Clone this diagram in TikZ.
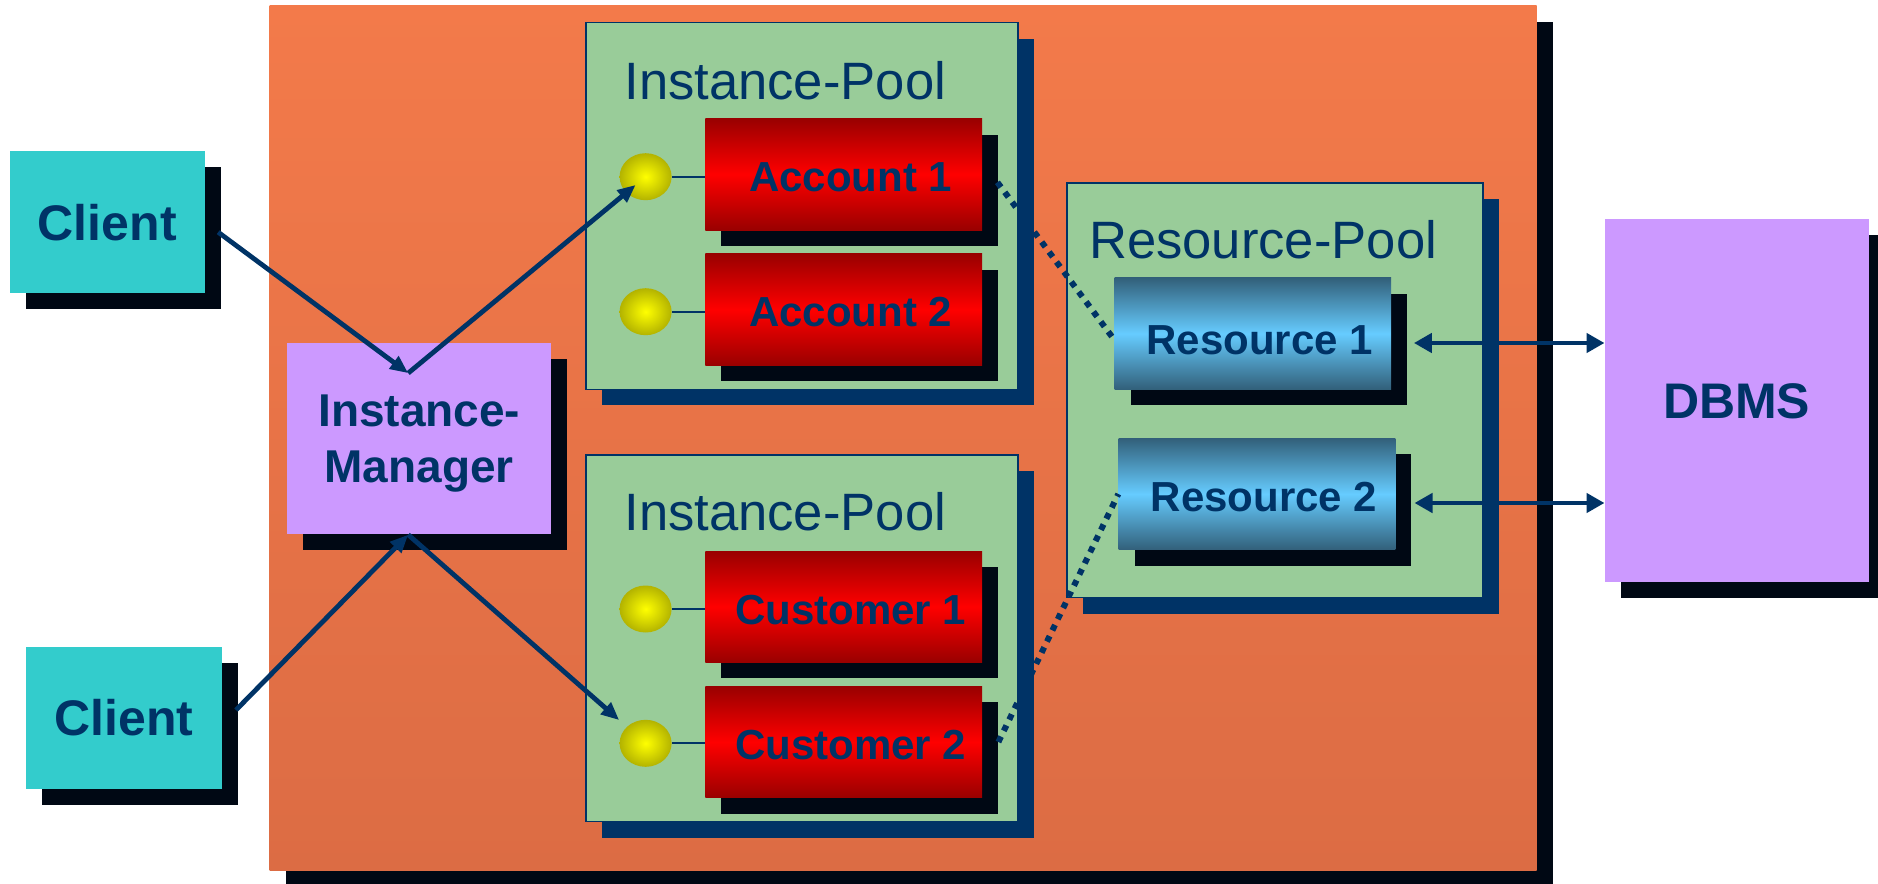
\documentclass[tikz,border=0pt]{standalone}
\usepackage{fontspec}
\setmainfont{Liberation Sans}
\usetikzlibrary{shapes.geometric,shadows,arrows.meta}

\definecolor{navy}{HTML}{003366}
\definecolor{shblack}{HTML}{000814}
\definecolor{orgtop}{HTML}{F37A4A}
\definecolor{orgbot}{HTML}{DC6C44}
\definecolor{clientcol}{HTML}{33CCCC}
\definecolor{mgrcol}{HTML}{CC99FF}
\definecolor{poolcol}{HTML}{99CC99}
\definecolor{dkred}{HTML}{990000}
\definecolor{steel}{HTML}{32607A}
\definecolor{skyblue}{HTML}{66CCFF}
\definecolor{olive}{HTML}{B3B300}

\tikzset{
  shd/.style={drop shadow={shadow xshift=8pt,shadow yshift=-8pt,opacity=1,fill=#1}},
  shd/.default=shblack,
  client/.style={shd, fill=clientcol, minimum width=97.6pt, minimum height=71.2pt,
    text=navy, font=\fontsize{25}{30}\selectfont\bfseries},
  mgr/.style={shd, fill=mgrcol, minimum width=131.8pt, minimum height=95.9pt,
    text=navy, align=center, text depth=0pt,
    font=\fontsize{23}{28}\selectfont\bfseries},
  pool/.style={shd=navy, fill=poolcol, draw=navy, line width=0.8pt,
    minimum width=216.2pt, minimum height=183.3pt},
  title/.style={anchor=base west, inner sep=0pt, text=navy,
    font=\fontsize{26.3}{30}\selectfont},
  obj/.style={shd, top color=dkred, bottom color=dkred, middle color=red,
    minimum width=138.3pt, minimum height=55.7pt, text=navy, text height=17.5pt,
    execute at begin node=\hspace*{7pt},
    font=\fontsize{21}{25}\selectfont\bfseries},
  res/.style={obj, top color=steel, bottom color=steel, middle color=skyblue},
  port/.style={ellipse, inner color=yellow, outer color=olive, inner sep=0pt,
    minimum width=26pt, minimum height=23.5pt},
  stub/.style={navy, line width=1pt},
  arrow/.style={navy, line width=2.4pt, -{Triangle[length=9pt,width=7.5pt]}},
  dots/.style={navy, line width=3pt, dash pattern=on 3pt off 3.2pt},
  both/.style={navy, line width=2.4pt,
    {Triangle[length=9pt,width=9.5pt]}-{Triangle[length=9pt,width=9.5pt]}}
}

\begin{document}
\begin{tikzpicture}[x=0.5pt,y=-0.5pt]
  \useasboundingbox (0,0) rectangle (1878,883);
  % container
  \node (bg) at (903,438.4) [shd, top color=orgtop, bottom color=orgbot,
    minimum width=633.5pt, minimum height=432.4pt] {};
  \node (c1) at (107.2,222.2) [client] {Client};
  \node (c2) at (124,718) [client] {Client};
  \node (im) at (419.2,438.4) [mgr] {Instance-\\Manager};
  \node (db) at (1736.7,400.6) [mgr, minimum height=181.6pt,
    font=\fontsize{25}{30}\selectfont\bfseries] {DBMS};
  % pools
  \node (p1) at (801.9,206) [pool] {};
  \node (p2) at (801.9,638.3) [pool] {};
  \node (rp) at (1274.9,390.4) [pool, minimum width=207.9pt,
    minimum height=207.2pt] {};
  \node (t1) at (624,99.4) [title] {Instance-Pool};
  \node (t2) at (624,530.6) [title] {Instance-Pool};
  \node (t3) at (1088.7,258.7) [title] {Resource-Pool};
  % instances
  \node (a1) at (843.7,174.3) [obj] {Account 1};
  \node (a2) at (843.7,309.6) [obj] {Account 2};
  \node (k1) at (843.7,606.7) [obj] {Customer 1};
  \node (k2) at (843.7,742) [obj] {Customer 2};
  \node (r1) at (1252.8,333.6) [res, text height=21pt] {Resource 1};
  \node (r2) at (1257,494) [res] {Resource 2};
  \node (e1) at (645.6,176.7) [port] {}; \node (e2) at (645.6,311.7) [port] {};
  \node (e3) at (645.6,609) [port] {}; \node (e4) at (645.6,743.3) [port] {};
  \draw[stub] (e1.east) -- (e1.east -| a1.west); \draw[stub] (e2.east) -- (e2.east -| a2.west);
  \draw[stub] (e3.east) -- (e3.east -| k1.west); \draw[stub] (e4.east) -- (e4.east -| k2.west);
  % calls
  \coordinate (imtop) at ([shift={(-5.5pt,-15.5pt)}]im.north);
  \coordinate (imbot) at ([xshift=-5.5pt]im.south);
  \draw[arrow] ([shift={(6.5pt,-5pt)}]c1.east) -- (imtop);
  \draw[arrow, shorten >=6.5pt] (imtop) -- (e1.center);
  \draw[arrow] ([shift={(7pt,4pt)}]c2.east) -- (imbot);
  \draw[arrow, shorten >=5pt] (imbot) -- (e4);
  \draw[dots] ([shift={(7.5pt,-4pt)}]a1.east) -- ([yshift=-3pt]r1.west);
  \draw[dots] ([xshift=8pt]k2.east) -- (r2.west);
  \draw[both] ([shift={(11.2pt,-4.7pt)}]r1.east) -- ([yshift=-4.7pt]r1.east -| db.west);
  \draw[both] ([shift={(9.4pt,-4.5pt)}]r2.east) -- ([yshift=-4.5pt]r2.east -| db.west);
\end{tikzpicture}
\end{document}
